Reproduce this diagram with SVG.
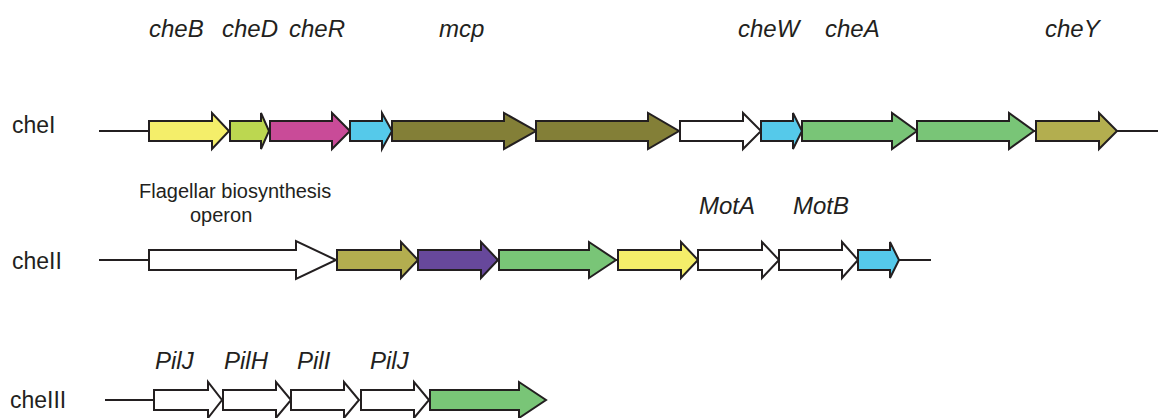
<svg xmlns="http://www.w3.org/2000/svg" width="1159" height="418" viewBox="0 0 1159 418">
  <style>
    .gene { stroke: #231F20; stroke-width: 2; stroke-linejoin: miter; }
    .bb { stroke: #231F20; stroke-width: 2; fill: none; }
    .row { font-family: "Liberation Sans", Arial, sans-serif; font-size: 23px; fill: #231F20; }
    .gn { font-family: "Liberation Sans", Arial, sans-serif; font-size: 24px; font-style: italic; fill: #231F20; }
    .note { font-family: "Liberation Sans", Arial, sans-serif; font-size: 20px; fill: #231F20; }
    .yel { fill: #F4EE6A; } .lime { fill: #BCD750; } .mag { fill: #C94B98; }
    .cya { fill: #55C9EA; } .oli { fill: #837F37; } .oly { fill: #B3AE4F; }
    .grn { fill: #79C577; } .pur { fill: #67489B; } .wht { fill: #FFFFFF; }
  </style>

  <!-- backbone lines -->
  <g id="connectors">
    <line class="bb" x1="99" y1="131" x2="1158" y2="131"/>
    <line class="bb" x1="99" y1="260" x2="931" y2="260"/>
    <line class="bb" x1="105" y1="400" x2="154" y2="400"/>
  </g>

  <!-- row labels -->
  <text class="row" x="12" y="133">cheI</text>
  <text class="row" x="12" y="269">cheII</text>
  <text class="row" x="10" y="408">cheIII</text>

  <!-- gene labels -->
  <text class="gn" x="149" y="37">cheB</text>
  <text class="gn" x="222" y="37">cheD</text>
  <text class="gn" x="289" y="37">cheR</text>
  <text class="gn" x="439" y="37">mcp</text>
  <text class="gn" x="738" y="37">cheW</text>
  <text class="gn" x="825" y="37">cheA</text>
  <text class="gn" x="1045" y="37">cheY</text>
  <text class="note" x="139" y="198">Flagellar biosynthesis</text>
  <text class="note" x="190" y="222">operon</text>
  <text class="gn" x="699" y="214">MotA</text>
  <text class="gn" x="793" y="214">MotB</text>
  <text class="gn" x="155" y="369">PilJ</text>
  <text class="gn" x="224" y="369">PilH</text>
  <text class="gn" x="297" y="369">PilI</text>
  <text class="gn" x="370" y="369">PilJ</text>

  <!-- cheI cluster -->
  <g id="cheI-1"><polygon class="gene yel" points="149,121 212,121 212,113 229,131 212,149 212,141 149,141"/></g>
  <g id="cheI-2"><polygon class="gene lime" points="230,121 261,121 261,113 269,131 261,149 261,141 230,141"/></g>
  <g id="cheI-3"><polygon class="gene mag" points="270,121 332,121 332,113 350,131 332,149 332,141 270,141"/></g>
  <g id="cheI-4"><polygon class="gene cya" points="350,121 382,121 382,113 392,131 382,149 382,141 350,141"/></g>
  <g id="cheI-5"><polygon class="gene oli" points="392,121 504,121 504,113 536,131 504,149 504,141 392,141"/></g>
  <g id="cheI-6"><polygon class="gene oli" points="536,121 648,121 648,113 679,131 648,149 648,141 536,141"/></g>
  <g id="cheI-7"><polygon class="gene wht" points="680,121 743,121 743,113 761,131 743,149 743,141 680,141"/></g>
  <g id="cheI-8"><polygon class="gene cya" points="761,121 793,121 793,113 802,131 793,149 793,141 761,141"/></g>
  <g id="cheI-9"><polygon class="gene grn" points="802,121 892,121 892,113 917,131 892,149 892,141 802,141"/></g>
  <g id="cheI-10"><polygon class="gene grn" points="917,121 1009,121 1009,113 1034,131 1009,149 1009,141 917,141"/></g>
  <g id="cheI-11"><polygon class="gene oly" points="1036,121 1099,121 1099,113 1117,131 1099,149 1099,141 1036,141"/></g>

  <!-- cheII cluster -->
  <g id="cheII-1"><polygon class="gene wht" points="149,250 296,250 296,241 336,260 296,279 296,270 149,270"/></g>
  <g id="cheII-2"><polygon class="gene oly" points="337,250 401,250 401,242 418,260 401,278 401,270 337,270"/></g>
  <g id="cheII-3"><polygon class="gene pur" points="418,250 481,250 481,242 498,260 481,278 481,270 418,270"/></g>
  <g id="cheII-4"><polygon class="gene grn" points="499,250 589,250 589,242 616,260 589,278 589,270 499,270"/></g>
  <g id="cheII-5"><polygon class="gene yel" points="618,250 681,250 681,242 698,260 681,278 681,270 618,270"/></g>
  <g id="cheII-6"><polygon class="gene wht" points="698,250 762,250 762,242 779,260 762,278 762,270 698,270"/></g>
  <g id="cheII-7"><polygon class="gene wht" points="779,250 842,250 842,242 858,260 842,278 842,270 779,270"/></g>
  <g id="cheII-8"><polygon class="gene cya" points="858,250 890,250 890,242 899,260 890,278 890,270 858,270"/></g>

  <!-- cheIII cluster -->
  <g id="cheIII-1"><polygon class="gene wht" points="154,390 208,390 208,382 222,400 208,418 208,410 154,410"/></g>
  <g id="cheIII-2"><polygon class="gene wht" points="223,390 276,390 276,382 291,400 276,418 276,410 223,410"/></g>
  <g id="cheIII-3"><polygon class="gene wht" points="291,390 344,390 344,382 359,400 344,418 344,410 291,410"/></g>
  <g id="cheIII-4"><polygon class="gene wht" points="361,390 414,390 414,382 429,400 414,418 414,410 361,410"/></g>
  <g id="cheIII-5"><polygon class="gene grn" points="430,390 519,390 519,382 546,400 519,418 519,410 430,410"/></g>
</svg>
